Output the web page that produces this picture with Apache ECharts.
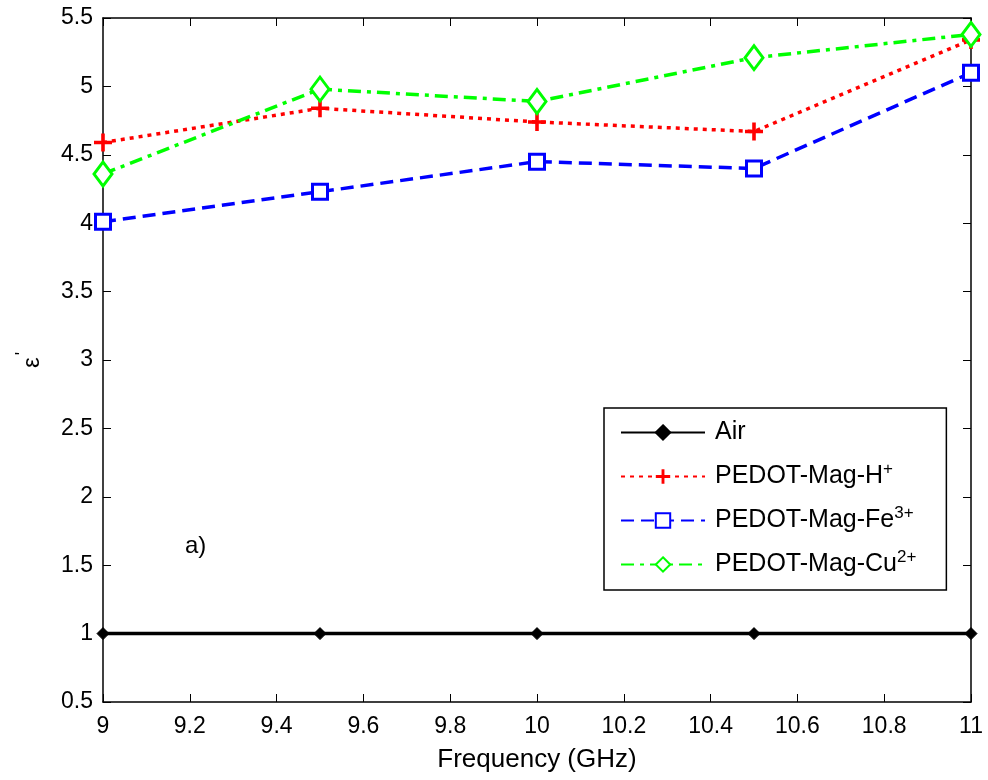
<!DOCTYPE html>
<html>
<head>
<meta charset="utf-8">
<script src="https://cdn.jsdelivr.net/npm/echarts@6/dist/echarts.min.js"></script>
<style>
  html, body { margin: 0; padding: 0; background: #fff; }
  #chart { width: 988px; height: 780px; }
</style>
</head>
<body>
<div id="chart"></div>
<script>
// 数据
var freq = [9, 9.5, 10, 10.5, 11];
var air = [1, 1, 1, 1, 1];
var magH = [4.59, 4.84, 4.74, 4.67, 5.34];
var magFe = [4.01, 4.23, 4.45, 4.40, 5.10];
var magCu = [4.36, 4.98, 4.89, 5.21, 5.38];
var seriesNames = ['Air', 'PEDOT-Mag-H+', 'PEDOT-Mag-Fe3+', 'PEDOT-Mag-Cu2+'];
var legendText = {
  'Air': 'Air',
  'PEDOT-Mag-H+': 'PEDOT-Mag-H{sup|+}',
  'PEDOT-Mag-Fe3+': 'PEDOT-Mag-Fe{sup|3+}',
  'PEDOT-Mag-Cu2+': 'PEDOT-Mag-Cu{sup|2+}'
};

function pairs(vals) {
  return freq.map(function (f, i) { return [f, vals[i]]; });
}

var font = 'Liberation Sans, Arial, sans-serif';
var plusPath = 'path://M4,0H6V4H10V6H6V10H4V6H0V4H4Z';

var chart = echarts.init(document.getElementById('chart'));

var tickStyle = { show: true, inside: true, length: 8, lineStyle: { color: '#000', width: 1 } };
var lineAxis = { show: true, lineStyle: { color: '#000', width: 1.5 } };

var option = {
  animation: false,
  backgroundColor: '#fff',
  textStyle: { fontFamily: font },
  grid: { left: 103, right: 17, top: 18, bottom: 78 },
  legend: {
    orient: 'vertical',
    left: 604,
    top: 408,
    padding: [12, 30, 13, 16],
    itemGap: 16,
    itemWidth: 84,
    itemHeight: 18,
    backgroundColor: '#fff',
    borderColor: '#000',
    borderWidth: 1.5,
    data: seriesNames,
    formatter: function (name) { return legendText[name]; },
    textStyle: {
      color: '#000',
      fontSize: 25,
      fontFamily: font,
      padding: [0, 0, 0, 5],
      rich: {
        sup: { fontSize: 17, verticalAlign: 'top', padding: [0, 0, 14, 0], fontFamily: font, color: '#000' }
      }
    }
  },
  xAxis: [{
    type: 'value',
    min: 9, max: 11, interval: 0.2,
    name: 'Frequency (GHz)',
    nameLocation: 'middle',
    nameGap: 45,
    nameTextStyle: { color: '#000', fontSize: 26, fontFamily: font },
    axisLine: lineAxis,
    axisTick: tickStyle,
    axisLabel: { color: '#000', fontSize: 23, margin: 13, fontFamily: font },
    splitLine: { show: false }
  }, {
    type: 'value',
    position: 'top',
    min: 9, max: 11, interval: 0.2,
    axisLine: lineAxis,
    axisTick: tickStyle,
    axisLabel: { show: false },
    splitLine: { show: false }
  }],
  yAxis: [{
    type: 'value',
    min: 0.5, max: 5.5, interval: 0.5,
    name: "{e|ε}{p|'}",
    nameLocation: 'middle',
    nameGap: 53,
    nameRotate: 90,
    nameTextStyle: {
      color: '#000', fontFamily: font,
      rich: {
        e: { fontSize: 24, fontFamily: font, color: '#000' },
        p: { fontSize: 18, fontFamily: font, color: '#000', verticalAlign: 'top', padding: [0, 0, 18, 2] }
      }
    },
    axisLine: lineAxis,
    axisTick: tickStyle,
    axisLabel: { color: '#000', fontSize: 23, margin: 10, fontFamily: font },
    splitLine: { show: false }
  }, {
    type: 'value',
    position: 'right',
    min: 0.5, max: 5.5, interval: 0.5,
    axisLine: lineAxis,
    axisTick: tickStyle,
    axisLabel: { show: false },
    splitLine: { show: false }
  }],
  graphic: [{
    type: 'text',
    left: 185,
    top: 534,
    style: { text: 'a)', fontSize: 24, fontFamily: font, fill: '#000' }
  }],
  series: [
    {
      name: 'Air', type: 'line', data: pairs(air),
      symbol: 'diamond', symbolSize: 12, showAllSymbol: true,
      lineStyle: { color: '#000', width: 3.5, type: 'solid' },
      itemStyle: { color: '#000', borderColor: '#000', borderWidth: 1 },
      z: 3
    },
    {
      name: 'PEDOT-Mag-H+', type: 'line', data: pairs(magH),
      symbol: plusPath, symbolSize: 18, showAllSymbol: true,
      lineStyle: { color: '#ff0000', width: 3.5, type: [4, 5] },
      itemStyle: { color: '#ff0000', borderWidth: 0 },
      z: 4
    },
    {
      name: 'PEDOT-Mag-Fe3+', type: 'line', data: pairs(magFe),
      symbol: 'rect', symbolSize: 15, showAllSymbol: true,
      lineStyle: { color: '#0000ff', width: 3.5, type: [13, 7] },
      itemStyle: { color: '#fff', borderColor: '#0000ff', borderWidth: 3 },
      z: 5
    },
    {
      name: 'PEDOT-Mag-Cu2+', type: 'line', data: pairs(magCu),
      symbol: 'diamond', symbolSize: [18, 24], showAllSymbol: true,
      lineStyle: { color: '#00ff00', width: 3.5, type: [13, 6, 4, 6] },
      itemStyle: { color: '#fff', borderColor: '#00ff00', borderWidth: 3 },
      z: 6
    }
  ]
};

chart.setOption(option);
</script>
</body>
</html>
